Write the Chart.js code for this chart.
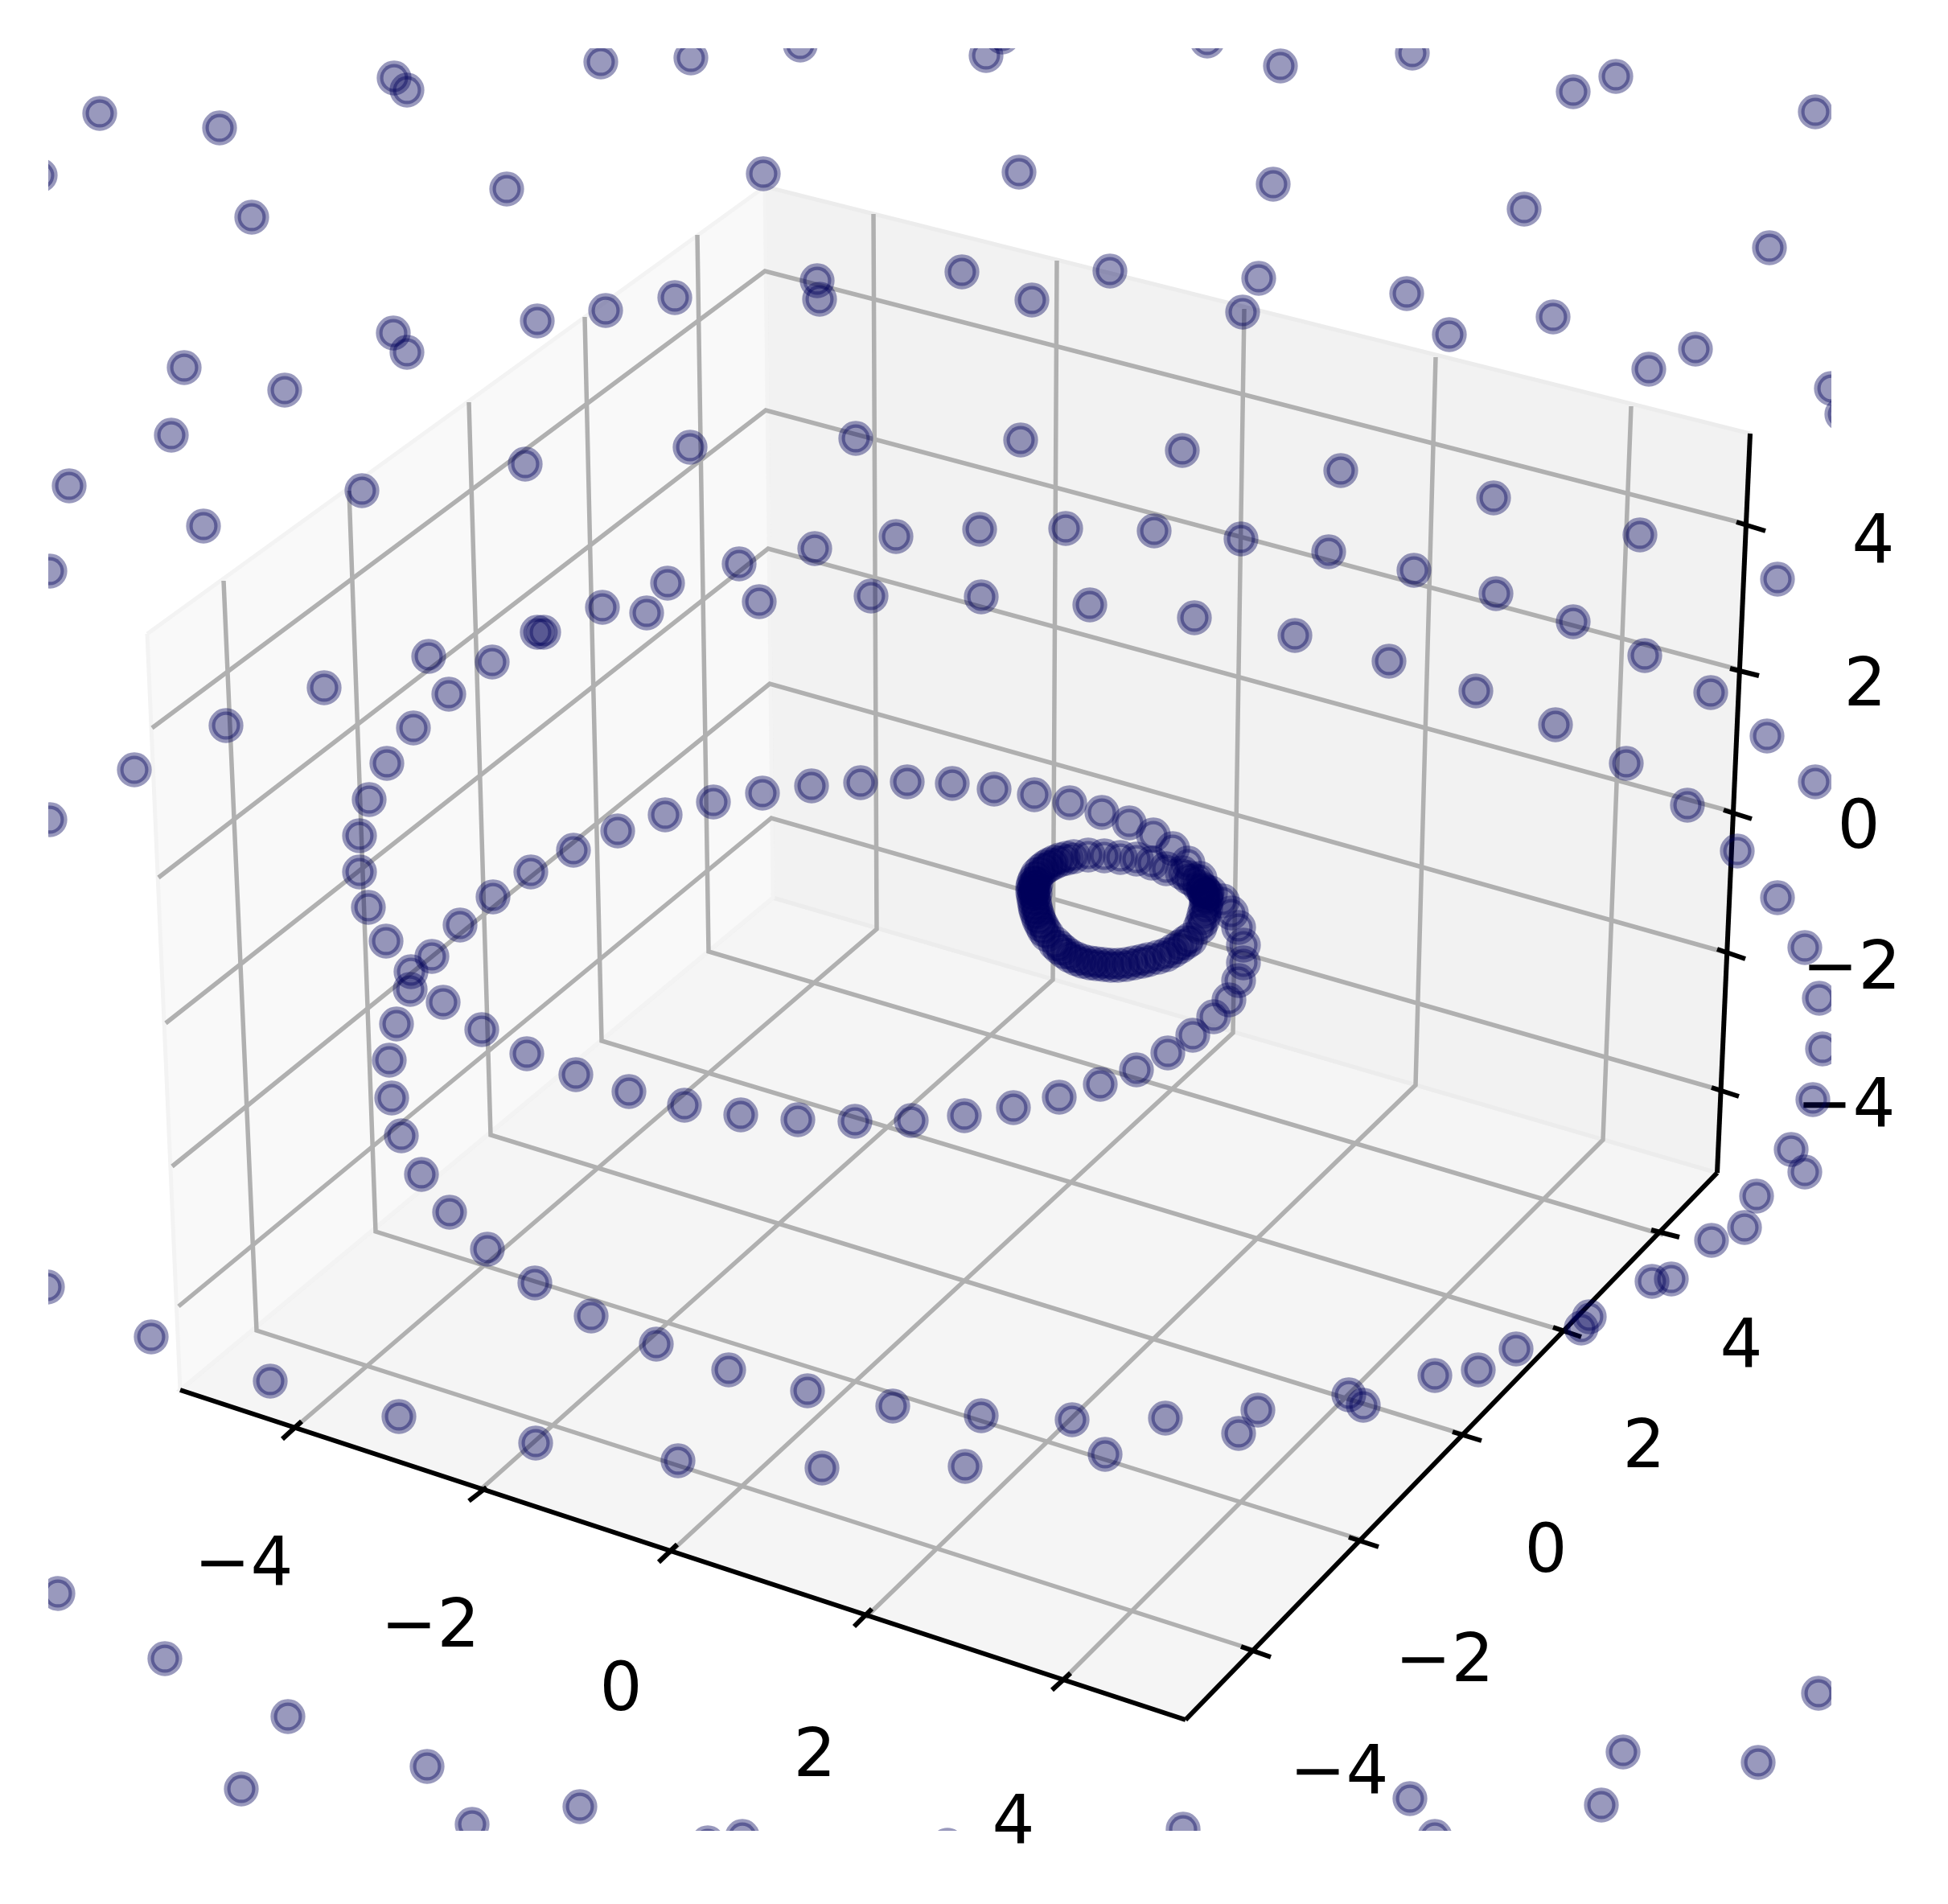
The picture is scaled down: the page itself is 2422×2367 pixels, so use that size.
<!DOCTYPE html>
<html>
<head>
<meta charset="utf-8">
<style>html,body{margin:0;padding:0;background:#fff}canvas{display:block}</style>
<script src="https://cdn.jsdelivr.net/npm/chart.js@4/dist/chart.umd.min.js"></script>
</head>
<body>
<canvas id="c" width="2422" height="2367"></canvas>
<script>
// Projected (screen-plane) positions.
const farScatter = [
[124,141],[273,159],[490,97],[506,112],[747,77],[859,72],[995,56],[1226,69],[1246,46],[1501,51],[1592,82],[1756,66],[1956,114],[2009,95],[2257,139],
[50,218],[313,270],[630,235],[949,216],[1267,214],[1583,229],[1895,260],[2200,308],
[1016,349],[1019,372],[1196,338],[1283,373],[1380,337],[1565,346],[1545,388],[1749,365],[1802,416],[1931,394],[2108,434],[2050,459],[2277,483],[2290,515],
[839,370],[753,386],[668,399],[489,414],[506,438],[229,457],[354,485],[213,541],[86,604],[253,654],[62,710],
[1064,545],[1269,547],[1470,560],[1667,585],[1857,619],[2039,665],[2210,720],[858,556],[653,577],[450,610],
[62,1019],[167,957],[281,902],[403,855],[59,1600],
[188,1662],[336,1717],[496,1761],[666,1794],[843,1816],[1022,1825],[1200,1823],[1374,1808],[1540,1782],
[72,1981],[205,2062],[358,2134],[531,2196],[300,2224],[721,2246],[587,2268],[923,2283],[880,2291],[1178,2294],[1471,2274],[1753,2236],[1784,2283],[1991,2244],[2018,2178],[2186,2191],[2261,2105]
];
const spiralArms = [
[1013,682],[1114,667],[1218,658],[1325,657],[1435,660],[1543,670],[1652,686],[1758,709],[1860,738],[1956,773],[2045,815],[2127,861],[2197,915],[2257,972],
[919,701],[830,725],[804,762],[749,755],[668,786],[676,786],[612,823],[533,816],[558,863],[514,905],[481,949],[459,994],[447,1039],[447,1084],[458,1128],[480,1170],[511,1208],[510,1230],[493,1273],[484,1318],[487,1365],[499,1412],[524,1460],[559,1507],[606,1553],[665,1595],[735,1636],[816,1671],[906,1703],[1004,1729],[1110,1748],[1220,1760],[1333,1765],[1449,1763],[1564,1753],[1677,1734],[1695,1747],[1784,1710],[1838,1703],[1885,1677],[1966,1651],[1976,1637],[2054,1593],[2078,1590],[2128,1542],[2169,1526],[2184,1487],[2244,1457],[2227,1429],[2254,1367],[2266,1304],[2262,1241],[2244,1178],[2210,1116],[2160,1058],[2098,1001],[2022,949],[1934,901],[1835,859],[1727,822],[1610,790],[1485,768],[1355,752],[1220,742],[1083,741],[944,748],
[537,1189],[572,1150],[613,1115],[660,1084],[713,1057],[768,1033],[827,1013],[887,997],[948,986],[1009,977],[1070,973],[1128,972],[1184,974],[1236,981],[1286,988],[1330,998],[1370,1010],[1404,1023],[1434,1038],[1458,1055],[1477,1073],[1492,1092],[1505,1110],[1520,1120],[1531,1135],[1540,1153],[1546,1175],[1546,1197],[1540,1219],[1528,1243],[1509,1264],[1483,1287],[1452,1309],[1413,1330],[1368,1348],[1317,1364],[1260,1377],[1199,1387],[1133,1393],[1063,1394],[992,1392],[921,1386],[851,1374],[782,1357],[716,1336],[655,1310],[599,1280],[551,1246]
];
const innerRing = [
[1413,1068],[1432,1073],[1450,1080],[1470,1085],[1485,1095],[1497,1108],[1500,1120],[1497,1137],[1492,1153],[1480,1168],[1467,1177],[1450,1187],[1428,1193],[1410,1197],[1390,1200],[1372,1199],[1355,1197],[1338,1192],[1323,1183],[1312,1173],[1302,1162],[1295,1150],[1290,1138],[1287,1127],[1285,1115],[1284,1103],[1287,1093],[1295,1082],[1305,1075],[1318,1069],[1335,1065],[1353,1063],[1373,1064],[1393,1066],
[1478,1091],[1492,1103],[1499,1114],[1499,1129],[1495,1145],[1298,1156],[1292,1144],[1288,1132],[1286,1121],[1284,1109],[1285,1098],[1290,1087],[1300,1078],
[1496,1106],[1500,1112],[1288,1099],[1286,1105],[1287,1111],
[1474,1172],[1459,1182],[1440,1190],[1420,1195],[1400,1199],[1381,1200],[1363,1198],[1346,1195],[1330,1188],[1317,1178],[1311,1072],[1326,1067]
];

// Box of the 3D axes, projected
const paneLeft  = [[183,788],[951,232],[961,1116],[224,1728],[183,788]];
const paneBack  = [[951,232],[2176,539],[2135,1458],[961,1116],[951,232]];
const paneFloor = [[961,1116],[2135,1458],[1474,2138],[224,1728],[961,1116]];
const gridX = [
[[1086,266],[1090,1155],[363,1778]],
[[1314,324],[1309,1218],[595,1854]],
[[1547,384],[1533,1284],[832,1931]],
[[1785,444],[1760,1349],[1076,2011]],
[[2028,505],[1993,1417],[1319,2091]]
];
const gridY = [
[[278,722],[319,1654],[1561,2052]],
[[434,610],[467,1531],[1695,1915]],
[[583,500],[610,1411],[1825,1785]],
[[727,394],[748,1294],[1949,1656]],
[[867,292],[881,1183],[2068,1535]]
];
const gridZ = [
[[222,1624],[959,1017],[2142,1356]],
[[214,1450],[957,850],[2149,1185]],
[[206,1272],[955,682],[2157,1010]],
[[197,1091],[952,510],[2164,833]],
[[189,905],[951,337],[2169,651]]
];
const axisLines = [
[[224,1728],[1474,2138]],
[[1474,2138],[2135,1458]],
[[2135,1458],[2176,539]]
];
const tickMarks = [
[[375,1767],[351,1789]],[[605,1849],[583,1866]],[[842,1920],[819,1942]],[[1084,2000],[1062,2022]],[[1331,2080],[1308,2101]],
[[1543,2047],[1580,2060]],[[1677,1911],[1714,1923]],[[1806,1780],[1842,1791]],[[1931,1650],[1966,1662]],[[2053,1529],[2088,1538]],
[[2128,1352],[2162,1363]],[[2135,1180],[2170,1192]],[[2143,1007],[2178,1018]],[[2151,831],[2187,840]],[[2159,649],[2195,660]]
];
const tickLabels = ['\u22124','\u22122','0','2','4'];
const labelsX = [[303,1939],[535,2016],[772,2095],[1013,2177],[1260,2260]];
const labelsY = [[1665,2198],[1796,2059],[1922,1923],[2044,1793],[2165,1668]];
const labelsZ = [[2295,1369],[2302,1198],[2311,1023],[2319,846],[2329,668]];

const pts = a => a.map(p => ({x:p[0], y:p[1]}));
const lineDs = (a, color, width, order) => ({data:pts(a), showLine:true, pointRadius:0, borderColor:color, borderWidth:width, fill:false, order, tension:0, clip:0, borderJoinStyle:'miter', borderCapStyle:'butt'});
const paneDs = (a, fillC, edge) => ({data:pts(a), showLine:true, pointRadius:0, borderColor:edge, borderWidth:5, backgroundColor:fillC, fill:'shape', order:100, tension:0, clip:0});
const dotDs = a => ({data:pts(a), showLine:false, pointRadius:17.5, pointBorderWidth:8.3, pointBackgroundColor:'rgba(0,0,90,0.4)', pointBorderColor:'rgba(0,0,90,0.4)', order:0, clip:0});

const datasets = [
  paneDs(paneLeft,'#f9f9f9','#f3f3f3'),
  paneDs(paneBack,'#f2f2f2','#ececec'),
  paneDs(paneFloor,'#f5f5f5','#eeeeee'),
  ...[...gridX, ...gridY, ...gridZ].map(g => lineDs(g,'#b0b0b0',5.5,50)),
  ...axisLines.map(g => lineDs(g,'#000000',6,40)),
  ...tickMarks.map(g => lineDs(g,'#000000',6,30)),
  dotDs(farScatter), dotDs(spiralArms), dotDs(innerRing)
];

const tickText = {
  id:'tickText',
  beforeDatasetsDraw(chart){
    const {ctx, scales:{x, y}} = chart;
    ctx.save();
    ctx.font = '83.33px "DejaVu Sans"';
    ctx.fillStyle = '#000';
    ctx.textAlign = 'center';
    ctx.textBaseline = 'alphabetic';
    [labelsX, labelsY, labelsZ].forEach(list => list.forEach((p,i) => {
      ctx.fillText(tickLabels[i], x.getPixelForValue(p[0]), y.getPixelForValue(p[1]) + 31);
    }));
    ctx.restore();
  }
};

new Chart(document.getElementById('c'), {
  type:'scatter',
  data:{datasets},
  plugins:[tickText],
  options:{
    responsive:false, animation:false, devicePixelRatio:1,
    layout:{padding:{left:60, top:60, right:145, bottom:91}},
    plugins:{legend:{display:false}, tooltip:{enabled:false}},
    scales:{
      x:{type:'linear', min:60, max:2277, display:false},
      y:{type:'linear', min:60, max:2276, reverse:true, display:false}
    }
  }
});
</script>
</body>
</html>
